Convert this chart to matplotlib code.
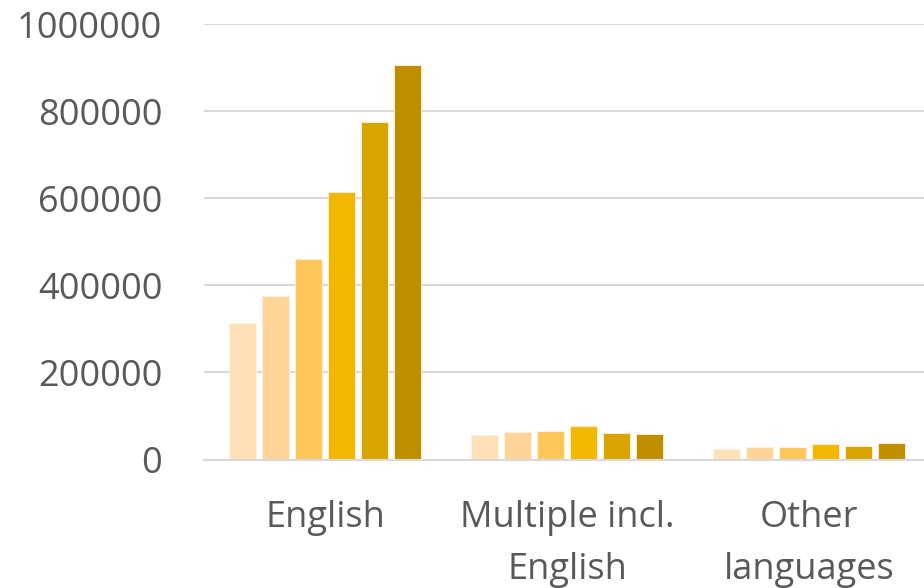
import numpy as np
import matplotlib
matplotlib.use("Agg")
import matplotlib.pyplot as plt

# === DATA ===
categories = ["English", "Multiple incl.\nEnglish", "Other\nlanguages"]
series_1 = [314500, 55700, 24700]
series_2 = [375700, 64100, 28600]
series_3 = [460500, 66400, 29300]
series_4 = [613300, 76300, 35500]
series_5 = [775000, 61100, 30200]
series_6 = [905600, 58000, 37800]
yticks = [0, 200000, 400000, 600000, 800000, 1000000]

series = [series_1, series_2, series_3, series_4, series_5, series_6]
colors = ["#FFE0B8", "#FFD597", "#FFC65A", "#F2B700", "#D9A300", "#BF8F00"]

plt.rcParams["font.family"] = ["Open Sans", "DejaVu Sans"]

fig = plt.figure(figsize=(9.24, 5.88), dpi=100)
ax = fig.add_axes([204 / 924, 1 - 459.5 / 588, 726 / 924, (459.5 - 24) / 588])

x = np.arange(len(categories))
step = 33 / 242
width = 27 / 242
for i, (vals, col) in enumerate(zip(series, colors)):
    ax.bar(x + (i - 2.5) * step, vals, width=width, color=col,
           edgecolor="#FFF3E0", linewidth=0.6, zorder=3)

ax.set_xlim(-0.5, 2.5)
ax.set_ylim(0, 1000000)
ax.set_yticks(yticks)
ax.set_yticklabels([str(v) for v in yticks])
ax.set_xticks(x)
ax.set_xticklabels(categories, linespacing=1.6)
ax.grid(axis="y", color="#D9D9D9", linewidth=1.5, zorder=0)
ax.tick_params(axis="both", length=0, labelsize=26, labelcolor="#595959")
ax.tick_params(axis="y", pad=30)
ax.tick_params(axis="x", pad=29)
for side in ["top", "right", "left"]:
    ax.spines[side].set_visible(False)
ax.spines["bottom"].set_color("#D9D9D9")
ax.spines["bottom"].set_linewidth(1.5)
ax.spines["bottom"].set_zorder(4)

fig.savefig("out.png", dpi=100)
